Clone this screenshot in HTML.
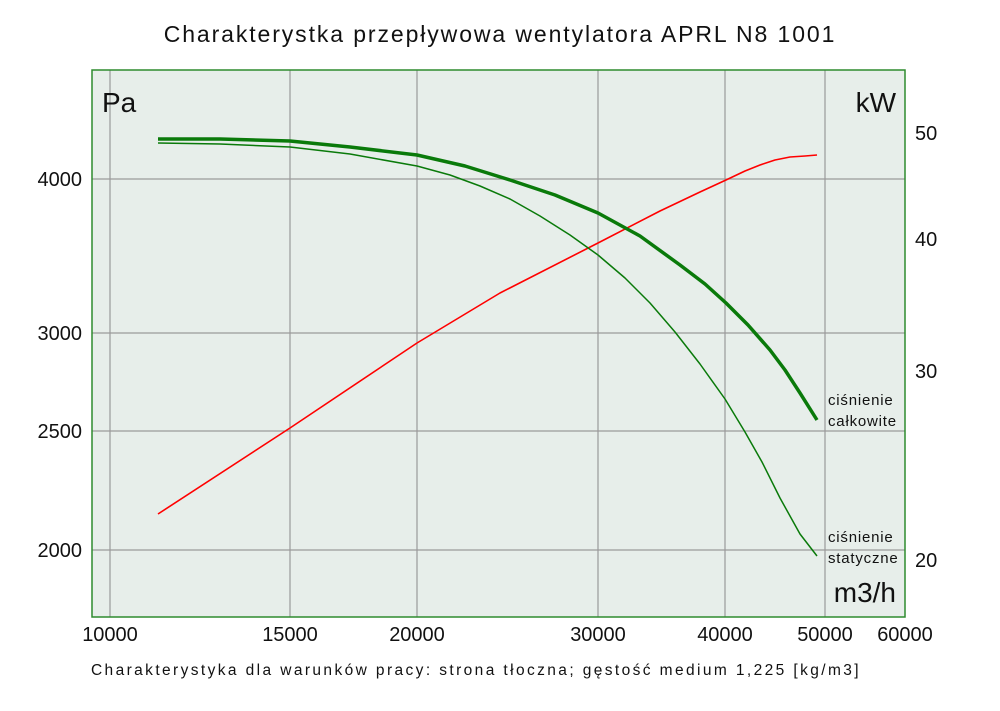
<!DOCTYPE html>
<html><head><meta charset="utf-8"><style>
body{margin:0;background:#fff}
svg text{font-family:"Liberation Sans","DejaVu Sans",sans-serif}
</style></head><body>
<svg width="1000" height="706" viewBox="0 0 1000 706">
<rect width="1000" height="706" fill="#fff"/>
<text x="500" y="42" font-size="23" text-anchor="middle" fill="#111" letter-spacing="1.9">Charakterystka przepływowa wentylatora APRL N8 1001</text>
<rect x="92" y="70" width="813" height="547" fill="#e7eeea"/>
<g stroke="#9a9a9a" stroke-width="1.2">
<line x1="110" y1="70" x2="110" y2="617"/>
<line x1="290" y1="70" x2="290" y2="617"/>
<line x1="417" y1="70" x2="417" y2="617"/>
<line x1="598" y1="70" x2="598" y2="617"/>
<line x1="725" y1="70" x2="725" y2="617"/>
<line x1="825" y1="70" x2="825" y2="617"/>
<line x1="92" y1="179" x2="905" y2="179"/>
<line x1="92" y1="333" x2="905" y2="333"/>
<line x1="92" y1="431" x2="905" y2="431"/>
<line x1="92" y1="550" x2="905" y2="550"/>
</g>
<rect x="92" y="70" width="813" height="547" fill="none" stroke="#2e8b2e" stroke-width="1.5"/>
<g fill="none" stroke-linejoin="round">
<polyline points="158,514 290,428 417,343 500,293 598,243 660,211 700,192 726,180 745,171 760,165 775,160 790,157 805,156 817,155" stroke="#f00" stroke-width="1.6"/>
<polyline points="158,139 220,139 290,141 350,147 417,155 465,166 510,180 555,195 598,213 640,236 680,265 705,284 726,303 748,325 770,350 785,370 800,393 817,420" stroke="#0a7a0a" stroke-width="3.5"/>
<polyline points="158,143 220,144 290,147 350,154 417,166 450,175 480,186 510,199 540,216 570,235 598,255 625,278 650,303 675,332 690,349 707,350 707,350" stroke="none"/>
<polyline points="158,143 220,144 290,147 350,154 417,166 450,175 480,186 510,199 540,216 570,235 598,255 625,278 650,303 675,332 700,364 725,399 745,432 762,462 780,498 800,534 817,556" stroke="#0a7a0a" stroke-width="1.5"/>
</g>
<g font-size="20" fill="#111">
<text x="82" y="186" text-anchor="end">4000</text>
<text x="82" y="340" text-anchor="end">3000</text>
<text x="82" y="438" text-anchor="end">2500</text>
<text x="82" y="557" text-anchor="end">2000</text>
<text x="915" y="140">50</text>
<text x="915" y="246">40</text>
<text x="915" y="378">30</text>
<text x="915" y="567">20</text>
<text x="110" y="641" text-anchor="middle">10000</text>
<text x="290" y="641" text-anchor="middle">15000</text>
<text x="417" y="641" text-anchor="middle">20000</text>
<text x="598" y="641" text-anchor="middle">30000</text>
<text x="725" y="641" text-anchor="middle">40000</text>
<text x="825" y="641" text-anchor="middle">50000</text>
<text x="905" y="641" text-anchor="middle">60000</text>
</g>
<g font-size="28" fill="#111">
<text x="102" y="112">Pa</text>
<text x="896" y="112" text-anchor="end">kW</text>
<text x="896" y="602" text-anchor="end">m3/h</text>
</g>
<g font-size="15" fill="#111" letter-spacing="0.8">
<text x="828" y="405">ciśnienie</text>
<text x="828" y="426">całkowite</text>
<text x="828" y="542">ciśnienie</text>
<text x="828" y="563">statyczne</text>
</g>
<text x="476" y="675" font-size="15.5" text-anchor="middle" fill="#111" letter-spacing="2.4">Charakterystyka dla warunków pracy: strona tłoczna; gęstość medium 1,225 [kg/m3]</text>
</svg>
</body></html>
